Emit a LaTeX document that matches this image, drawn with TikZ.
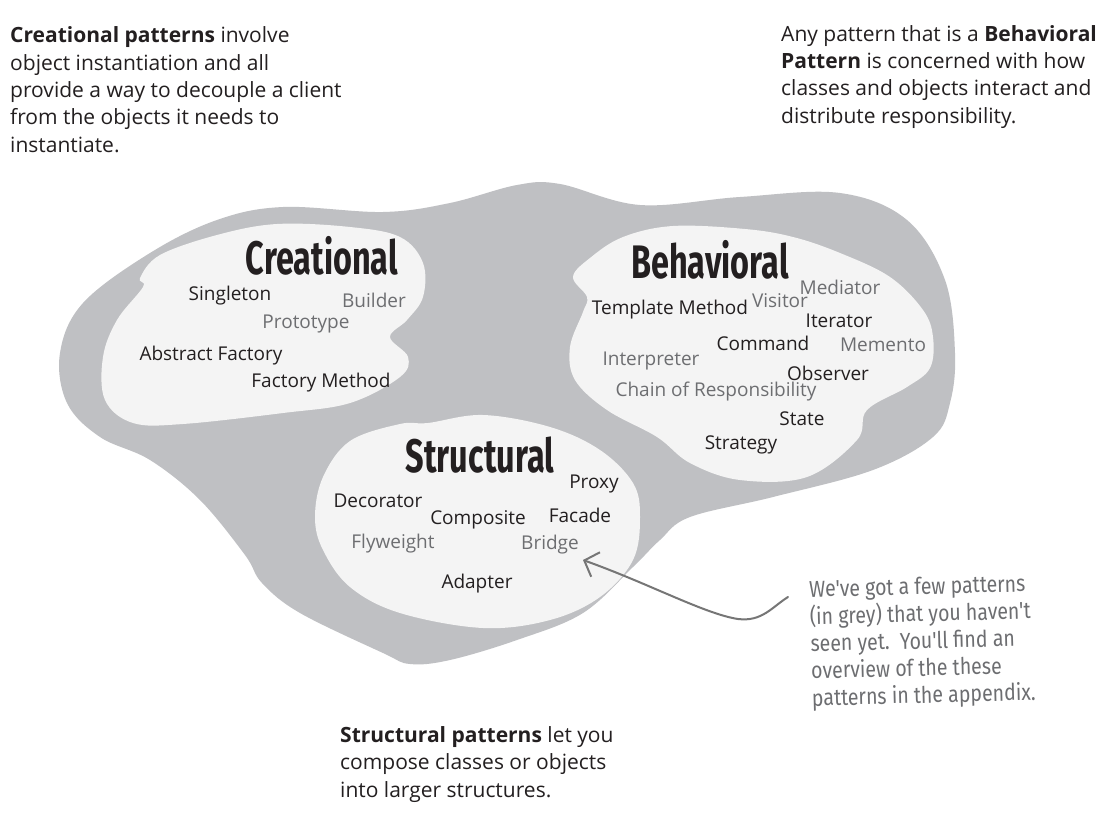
\documentclass[tikz,border=0pt]{standalone}
\usepackage{fontspec}
\setmainfont{Open Sans}
\newfontfamily\titlefont[FakeStretch=0.69]{Fira Sans}
\newfontfamily\handfont[FakeStretch=0.85]{Fira Sans}
\usetikzlibrary{arrows.meta}
\definecolor{blobgrey}{HTML}{BFC0C3}
\definecolor{blobin}{HTML}{F4F4F4}
\definecolor{itemgrey}{HTML}{6D6E71}
\definecolor{ink}{HTML}{231F20}
\definecolor{arrowgrey}{HTML}{767676}
\tikzset{
  para/.style={anchor=base west, align=left, inner sep=0pt, text=ink,
    font=\fontsize{21}{27.3}\selectfont},
  note/.style={anchor=base west, align=left, inner sep=0pt, text=itemgrey,
    font=\handfont\fontsize{23}{27.2}\selectfont},
  cattitle/.style={inner sep=0pt, text=ink, font=\titlefont\bfseries\fontsize{47}{47}\selectfont},
  known/.style={inner sep=0pt, text=ink, font=\fontsize{19}{19}\selectfont},
  newpat/.style={inner sep=0pt, text=itemgrey, font=\fontsize{19}{19}\selectfont},
  pointer/.style={draw=arrowgrey, line width=2pt, line cap=round,
    -{Straight Barb[length=12pt,width=26pt,line width=2pt]}}
}
\begin{document}
\begin{tikzpicture}[x=1pt,y=-1pt]
\useasboundingbox (0,0) rectangle (1109,816);
\fill[white] (0,0) rectangle (1109,816);
% outer blob
\fill[blobgrey] plot[smooth cycle, tension=0.6] coordinates {
 (283,207) (383,212) (450,203) (517,185) (560,184) (640,205) (740,197) (840,193)
 (907,220) (945,280) (955,353) (950,403) (933,437) (873,470) (773,497)
 (690,517) (660,540) (633,567) (583,613) (517,640) (450,660) (410,664)
 (383,653) (300,613) (262,583) (245,555) (200,500) (150,460) (100,437)
 (67,403) (60,353) (83,303) (150,253) (217,220)};
% creational
\fill[blobin] plot[smooth cycle, tension=0.6] coordinates {
 (140,278) (143,287) (117,320) (103,357) (105,400) (133,423) (183,424)
 (283,413) (350,403) (400,377) (408,357) (390,337) (407,320) (423,297)
 (423,263) (400,237) (350,227) (277,224) (217,235) (160,255)};
% behavioral
\fill[blobin] plot[smooth cycle, tension=0.6] coordinates {
 (573,277) (587,297) (583,312) (570,347) (575,380) (607,410) (657,437)
 (690,463) (740,480) (807,477) (857,440) (867,410) (907,387) (930,368)
 (933,337) (923,310) (890,277) (840,253) (793,237) (745,229) (673,226)
 (623,237) (590,258)};
% structural
\fill[blobin] plot[smooth cycle, tension=0.6] coordinates {
 (428,423) (400,424) (350,441) (323,477) (315,517) (323,550) (350,587)
 (400,613) (483,628) (550,620) (600,597) (633,560) (640,517) (633,483)
 (600,450) (550,427) (483,415)};

% paragraphs (anchored at the baseline of the last line)
\node[para] (creapara) at (10,152) {\textbf{Creational patterns} involve\\object instantiation and all\\provide a way to decouple a client\\from the objects it needs to\\instantiate.};
\node[para] (behpara) at (781,123) {Any pattern that is a \textbf{Behavioral}\\\textbf{Pattern} is concerned with how\\classes and objects interact and\\distribute responsibility.};
\node[para] (strpara) at (340,797) {\textbf{Structural patterns} let you\\compose classes or objects\\into larger structures.};
\node[note, rotate=1.5] (note) at (812,706) {We've got a few patterns\\(in grey) that you haven't\\seen yet.\ \ You'll find an\\overview of the these\\patterns in the appendix.};

% titles
\node[cattitle] (creational) at (322,256) {Creational};
\node[cattitle] (behavioral) at (710,260) {Behavioral};
\node[cattitle] (structural) at (480,455) {Structural};

% creational items
\node[known] (singleton) at (230,296) {Singleton};
\node[newpat] (builder) at (374,300) {Builder};
\node[newpat] (prototype) at (306,324) {Prototype};
\node[known] (absfactory) at (211,356) {Abstract Factory};
\node[known] (factmethod) at (321,383) {Factory Method};

% behavioral items
\node[newpat] (mediator) at (840,287) {Mediator};
\node[newpat] (visitor) at (780,301) {Visitor};
\node[known] (template) at (670,310) {Template Method};
\node[known] (iterator) at (839,321) {Iterator};
\node[known] (command) at (763,343) {Command};
\node[newpat] (memento) at (883,345) {Memento};
\node[newpat] (interpreter) at (651,361) {Interpreter};
\node[known] (observer) at (828,373) {Observer};
\node[newpat] (chain) at (716,392) {Chain of Responsibility};
\node[known] (state) at (802,419) {State};
\node[known] (strategy) at (741,445) {Strategy};

% structural items
\node[known] (proxy) at (594,484) {Proxy};
\node[known] (decorator) at (378,501) {Decorator};
\node[known] (composite) at (478,520) {Composite};
\node[known] (facade) at (580,515) {Facade};
\node[newpat] (flyweight) at (393,544) {Flyweight};
\node[newpat] (bridge) at (550,545) {Bridge};
\node[known] (adapter) at (477,584) {Adapter};

% pointer
\coordinate (notestart) at (788,597);
\coordinate (bridgetip) at (583,560);
\draw[pointer] (notestart) .. controls (772,607) and (762,622) .. (738,619)
  .. controls (705,614) and (650,584) .. (bridgetip);
\end{tikzpicture}
\end{document}
